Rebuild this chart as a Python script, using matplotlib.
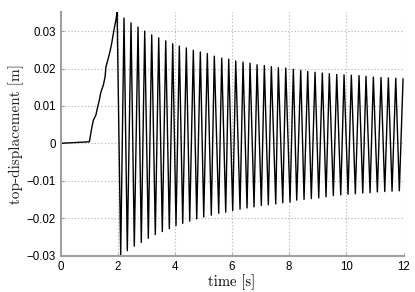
import numpy as np
import matplotlib
matplotlib.use("Agg")
import matplotlib.pyplot as plt
from matplotlib.ticker import FuncFormatter

# rest + ramp-up (t [s], displacement [m])
rise_t = [0.0, 1.01, 1.09, 1.15, 1.24, 1.29, 1.36, 1.41, 1.50, 1.56, 1.59,
          1.67, 1.73, 1.79, 1.83, 1.88, 1.94]
rise_u = [0.0, 0.0004, 0.0040, 0.0062, 0.0076, 0.0094, 0.0116, 0.0136, 0.0156,
          0.0178, 0.0205, 0.0227, 0.0245, 0.0267, 0.0285, 0.0307, 0.0330]

# free vibration: peaks and troughs of each cycle
peak_t = [1.98, 2.222, 2.467, 2.712, 2.946, 3.191, 3.436, 3.681, 3.926, 4.157,
          4.402, 4.647, 4.892, 5.136, 5.381, 5.640, 5.885, 6.130, 6.386, 6.631,
          6.876, 7.131, 7.376, 7.621, 7.880, 8.146, 8.404, 8.649, 8.905, 9.160,
          9.405, 9.664, 9.920, 10.175, 10.444, 10.689, 10.945, 11.214, 11.470,
          11.729, 11.984]
peak_u = [0.0350, 0.0335, 0.0322, 0.0311, 0.0300, 0.0290, 0.0282, 0.0274,
          0.0266, 0.0260, 0.0255, 0.0249, 0.0244, 0.0240, 0.0233, 0.0228,
          0.0225, 0.0220, 0.0217, 0.0214, 0.0210, 0.0208, 0.0205, 0.0202,
          0.0201, 0.0198, 0.0195, 0.0192, 0.0190, 0.0188, 0.0186, 0.0184,
          0.0183, 0.0182, 0.0181, 0.0179, 0.0177, 0.0176, 0.0175, 0.0174,
          0.0172]
trough_t = [2.106, 2.337, 2.582, 2.827, 3.072, 3.317, 3.562, 3.807, 4.041,
            4.276, 4.521, 4.766, 5.011, 5.276, 5.535, 5.780, 6.025, 6.281,
            6.526, 6.771, 7.026, 7.271, 7.530, 7.775, 8.030, 8.264, 8.520,
            8.775, 9.034, 9.290, 9.545, 9.804, 10.060, 10.315, 10.574, 10.830,
            11.085, 11.344, 11.599, 11.854]
trough_u = [-0.0300, -0.0287, -0.0275, -0.0265, -0.0254, -0.0244, -0.0236,
            -0.0228, -0.0220, -0.0214, -0.0208, -0.0202, -0.0197, -0.0192,
            -0.0187, -0.0184, -0.0180, -0.0176, -0.0173, -0.0170, -0.0166,
            -0.0164, -0.0162, -0.0159, -0.0157, -0.0152, -0.0150, -0.0148,
            -0.0146, -0.0143, -0.0140, -0.0138, -0.0136, -0.0135, -0.0133,
            -0.0132, -0.0130, -0.0129, -0.0128, -0.0127]

x_ticks = [0, 2, 4, 6, 8, 10, 12]
y_ticks = [-0.03, -0.02, -0.01, 0, 0.01, 0.02, 0.03]

# interleave peaks and troughs into one time series
osc_t = []
osc_u = []
for i in range(len(peak_t)):
    osc_t.append(peak_t[i])
    osc_u.append(peak_u[i])
    if i < len(trough_t):
        osc_t.append(trough_t[i])
        osc_u.append(trough_u[i])
t = np.array(rise_t + osc_t)
u = np.array(rise_u + osc_u)

fig = plt.figure(figsize=(4.15, 2.92), dpi=100)
ax = fig.add_axes([0.1458, 0.125, 0.8265, 0.8325])
ax.plot(t, u, color="black", lw=1.0)

ax.set_xlim(0, 12)
ax.set_ylim(-0.03, 0.035)
ax.set_xticks(x_ticks)
ax.set_yticks(y_ticks)
ax.yaxis.set_major_formatter(FuncFormatter(lambda v, p: "{:g}".format(round(v, 4)).replace("-", "\u2212")))
ax.grid(True, linestyle=(0, (1, 2)), color="#b0b0b0", lw=0.8)

for s in ["top", "right"]:
    ax.spines[s].set_visible(False)
for s in ["left", "bottom"]:
    ax.spines[s].set_color("#a0a0a0")
    ax.spines[s].set_linewidth(1.5)
ax.tick_params(direction="in", length=2, color="#a0a0a0", labelsize=8.3)
ax.tick_params(axis="x", pad=4)
for lab in ax.get_xticklabels() + ax.get_yticklabels():
    lab.set_fontfamily("Liberation Sans")

ax.set_xlabel("time [s]", fontfamily="cmr10", fontsize=10.5, labelpad=1)
ax.set_ylabel("top-displacement [m]", fontfamily="cmr10", fontsize=11, labelpad=2, color="#202020")

fig.savefig("out.png", dpi=100)
